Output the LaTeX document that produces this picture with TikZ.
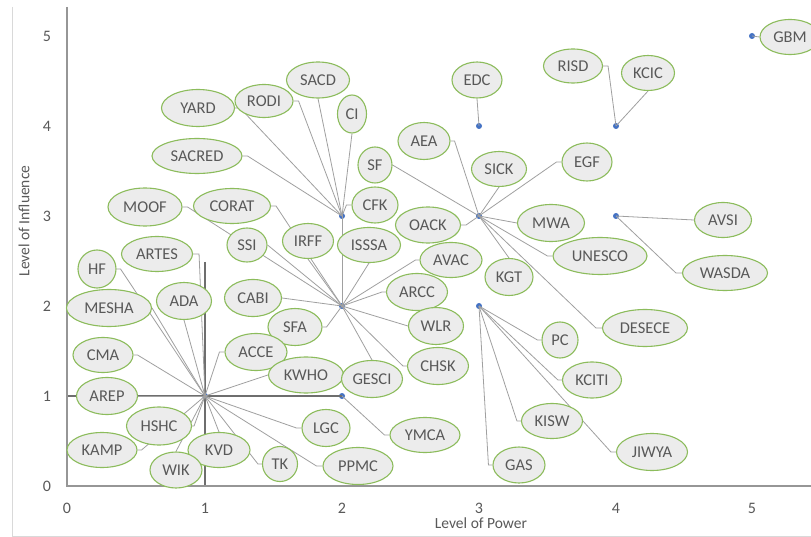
\documentclass[tikz,border=0pt]{standalone}
\usepackage{fontspec}
\setmainfont{Carlito}
\usetikzlibrary{shapes.geometric}
\pgfdeclarelayer{bg}
\pgfsetlayers{bg,main}
\definecolor{lblfill}{RGB}{236,236,236}
\definecolor{lbldraw}{RGB}{140,188,92}
\definecolor{txtgray}{RGB}{89,89,89}
\definecolor{leadgray}{RGB}{160,160,160}
\definecolor{axisgray}{RGB}{150,150,150}
\definecolor{darkline}{RGB}{110,110,110}
\definecolor{bordergray}{RGB}{217,217,217}
\definecolor{dotblue}{RGB}{68,114,196}
\begin{document}
\begin{tikzpicture}[x=1pt,y=-1pt,
  lab/.style 2 args={ellipse, draw=lbldraw, fill=lblfill, line width=1.1pt, inner sep=0pt,
    minimum width=#1pt, minimum height=#2pt, text=txtgray, font=\fontsize{16.5}{18}\selectfont},
  lead/.style={draw=leadgray, line width=0.8pt},
  dot/.style={circle, fill=dotblue, inner sep=0pt, minimum size=6pt},
  ticklab/.style={text=txtgray, font=\fontsize{16}{18}\selectfont, inner sep=0pt},
  axtitle/.style={text=txtgray, font=\fontsize{15.5}{18}\selectfont, inner sep=0pt},
  axisline/.style={draw=axisgray, line width=1.5pt},
  errline/.style={draw=darkline, line width=1.2pt}]
\useasboundingbox (0,0) rectangle (811,537);
\begin{pgfonlayer}{bg}
\fill[white] (0,0) rectangle (811,537);
\end{pgfonlayer}

% chart border
\draw[bordergray, line width=1pt] (12,7) -- (12,536) -- (811,536);

% axes
\coordinate (yaxtop) at (67,7);
\coordinate (orig) at (67,486);
\coordinate (xaxend) at (811,486);
\draw[axisline] (yaxtop) -- (orig) -- (xaxend);

% tick labels
\foreach \v/\yy in {0/486,1/396,2/306,3/216,4/126,5/36}
  \node[ticklab] (yt\v) at (47,\yy) {\v};
\foreach \v/\xx in {0/67,1/205,2/342,3/479,4/616,5/752}
  \node[ticklab] (xt\v) at (\xx,508) {\v};

% axis titles
\node[axtitle] (xtitle) at (481,523) {Level of Power};
\node[axtitle, rotate=90] (ytitle) at (24,221) {Level of Influence};

% labels
\node[lab={60}{35}] (GBM) at (790,37) {GBM};
\node[lab={59}{34}] (RISD) at (573,66) {RISD};
\node[lab={53}{35}] (KCIC) at (648,73) {KCIC};
\node[lab={50}{36}] (EDC) at (477,80) {EDC};
\node[lab={63}{36}] (SACD) at (318,80) {SACD};
\node[lab={29}{38}] (CI) at (352,114) {CI};
\node[lab={58}{33}] (RODI) at (264,101) {RODI};
\node[lab={73}{37}] (YARD) at (198,108) {YARD};
\node[lab={90}{35}] (SACRED) at (197,156) {SACRED};
\node[lab={74}{38}] (MOOF) at (145,207) {MOOF};
\node[lab={77}{35}] (CORAT) at (232,206) {CORAT};
\node[lab={40}{34}] (SSI) at (247,245) {SSI};
\node[lab={51}{35}] (IRFF) at (308,241) {IRFF};
\node[lab={63}{35}] (ISSSA) at (369,245) {ISSSA};
\node[lab={46}{36}] (CFK) at (375,205) {CFK};
\node[lab={34}{36}] (SF) at (375,165) {SF};
\node[lab={52}{37}] (AEA) at (424,141) {AEA};
\node[lab={55}{35}] (SICK) at (499,169) {SICK};
\node[lab={50}{38}] (EGF) at (587,162) {EGF};
\node[lab={65}{36}] (OACK) at (428,225) {OACK};
\node[lab={67}{37}] (MWA) at (551,223) {MWA};
\node[lab={62}{35}] (AVAC) at (451,260) {AVAC};
\node[lab={94}{37}] (UNESCO) at (600,256) {UNESCO};
\node[lab={48}{37}] (KGT) at (509,277) {KGT};
\node[lab={57}{35}] (AVSI) at (723,220) {AVSI};
\node[lab={85}{35}] (WASDA) at (725,273) {WASDA};
\node[lab={61}{37}] (ARCC) at (417,292) {ARCC};
\node[lab={85}{37}] (DESECE) at (645,328) {DESECE};
\node[lab={55}{37}] (WLR) at (436,326) {WLR};
\node[lab={36}{36}] (PC) at (560,340) {PC};
\node[lab={59}{36}] (KCITI) at (592,380) {KCITI};
\node[lab={61}{37}] (CHSK) at (438,366) {CHSK};
\node[lab={61}{35}] (KISW) at (552,421) {KISW};
\node[lab={71}{37}] (JIWYA) at (652,452) {JIWYA};
\node[lab={52}{36}] (GAS) at (519,465) {GAS};
\node[lab={70}{35}] (YMCA) at (425,435) {YMCA};
\node[lab={54}{37}] (SFA) at (295,327) {SFA};
\node[lab={62}{37}] (ACCE) at (256,352) {ACCE};
\node[lab={75}{36}] (KWHO) at (306,375) {KWHO};
\node[lab={61}{37}] (GESCI) at (372,379) {GESCI};
\node[lab={48}{37}] (LGC) at (326,428) {LGC};
\node[lab={70}{37}] (PPMC) at (358,466) {PPMC};
\node[lab={35}{35}] (TK) at (280,464) {TK};
\node[lab={62}{35}] (KVD) at (219,450) {KVD};
\node[lab={52}{36}] (WIK) at (176,470) {WIK};
\node[lab={65}{38}] (HSHC) at (159,426) {HSHC};
\node[lab={70}{35}] (KAMP) at (102,450) {KAMP};
\node[lab={61}{37}] (AREP) at (107,396) {AREP};
\node[lab={60}{35}] (CMA) at (103,355) {CMA};
\node[lab={85}{37}] (MESHA) at (109,308) {MESHA};
\node[lab={55}{37}] (ADA) at (184,301) {ADA};
\node[lab={38}{38}] (HF) at (97,269) {HF};
\node[lab={71}{35}] (ARTES) at (157,254) {ARTES};
\node[lab={57}{37}] (CABI) at (253,298) {CABI};

\begin{pgfonlayer}{bg}
% data points
\node[dot] (h11) at (205,396) {};
\node[dot] (h21) at (342,396) {};
\node[dot] (h22) at (342,306) {};
\node[dot] (h23) at (342,216) {};
\node[dot] (h32) at (479,306) {};
\node[dot] (h33) at (479,216) {};
\node[dot] (h34) at (479,126) {};
\node[dot] (h44) at (616,126) {};
\node[dot] (h43) at (616,216) {};
\node[dot] (h55) at (752,36) {};

% dark bars through (1,1)
\coordinate (hbarL) at (67,396);
\coordinate (vbarT) at (205,262);
\coordinate (vbarB) at (205,486);
\draw[errline] (hbarL) -- (h21.center);
\draw[errline] (vbarT) -- (vbarB);

% leaders to (1,1)
\draw[lead] (ARTES.east) -- ++(6,0) -- (h11.center);
\draw[lead] (HF.east) -- ++(4,0) -- (h11.center);
\draw[lead] (ADA.south) -- (h11.center);
\draw[lead] (MESHA.east) -- (h11.center);
\draw[lead] (CMA.east) -- ++(4,0) -- (h11.center);
\draw[lead] (AREP.east) -- (h11.center);
\draw[lead] (HSHC.east) -- ++(2,0) -- (h11.center);
\draw[lead] (KAMP.east) -- ++(4,0) -- (h11.center);
\draw[lead] (WIK.north) -- (h11.center);
\draw[lead] (KVD.north) -- (h11.center);
\draw[lead] (ACCE.west) -- ++(-5,0) -- (h11.center);
\draw[lead] (KWHO.west) -- (h11.center);
\draw[lead] (LGC.west) -- ++(-5,0) -- (h11.center);
\draw[lead] (TK.west) -- ++(-4,0) -- (h11.center);
\draw[lead] (PPMC.west) -- ++(-6,0) -- (h11.center);

% leaders to (2,2)
\draw[lead] (MOOF.east) -- ++(5,0) -- (h22.center);
\draw[lead] (CORAT.east) -- ++(5,0) -- (h22.center);
\draw[lead] (SSI.east) -- (h22.center);
\draw[lead] (IRFF.south) -- (h22.center);
\draw[lead] (ISSSA.south) -- (h22.center);
\draw[lead] (CABI.east) -- (h22.center);
\draw[lead] (SFA.east) -- ++(4,0) -- (h22.center);
\draw[lead] (AVAC.west) -- ++(-4,0) -- (h22.center);
\draw[lead] (ARCC.west) -- ++(-4,0) -- (h22.center);
\draw[lead] (WLR.west) -- (h22.center);
\draw[lead] (CHSK.west) -- ++(-4,0) -- (h22.center);
\draw[lead] (GESCI.north) -- (h22.center);
\draw[lead] (h22.center) -- (h23.center);

% leaders to (2,3)
\draw[lead] (YARD.east) -- ++(5,0) -- (h23.center);
\draw[lead] (RODI.east) -- ++(5,0) -- (h23.center);
\draw[lead] (SACD.south) -- (h23.center);
\draw[lead] (CI.south) -- (h23.center);
\draw[lead] (SACRED.east) -- ++(5,0) -- (h23.center);
\draw[lead] (CFK.west) -- ++(-5,0) -- (h23.center);

% leaders to (3,3)
\draw[lead] (AEA.east) -- ++(4,0) -- (h33.center);
\draw[lead] (SF.east) -- (h33.center);
\draw[lead] (SICK.south) -- (h33.center);
\draw[lead] (EGF.west) -- ++(-5,0) -- (h33.center);
\draw[lead] (OACK.east) -- ++(5,0) -- (h33.center);
\draw[lead] (MWA.west) -- (h33.center);
\draw[lead] (UNESCO.west) -- ++(-5,0) -- (h33.center);
\draw[lead] (KGT.north) -- (h33.center);
\draw[lead] (DESECE.west) -- ++(-6,0) -- (h33.center);

% leaders to (3,2)
\draw[lead] (PC.west) -- ++(-4,0) -- (h32.center);
\draw[lead] (KCITI.west) -- ++(-4,0) -- (h32.center);
\draw[lead] (KISW.west) -- ++(-4,0) -- (h32.center);
\draw[lead] (JIWYA.west) -- ++(-5,0) -- (h32.center);
\draw[lead] (GAS.west) -- ++(-4,0) -- (h32.center);

% other leaders
\draw[lead] (YMCA.west) -- ++(-5,0) -- (h21.center);
\draw[lead] (EDC.south) -- (h34.center);
\draw[lead] (RISD.east) -- ++(5,0) -- (h44.center);
\draw[lead] (KCIC.south) -- (h44.center);
\draw[lead] (AVSI.west) -- (h43.center);
\draw[lead] (WASDA.west) -- ++(-6,0) -- (h43.center);
\draw[lead] (GBM.west) -- (h55.center);
\end{pgfonlayer}
\end{tikzpicture}
\end{document}
